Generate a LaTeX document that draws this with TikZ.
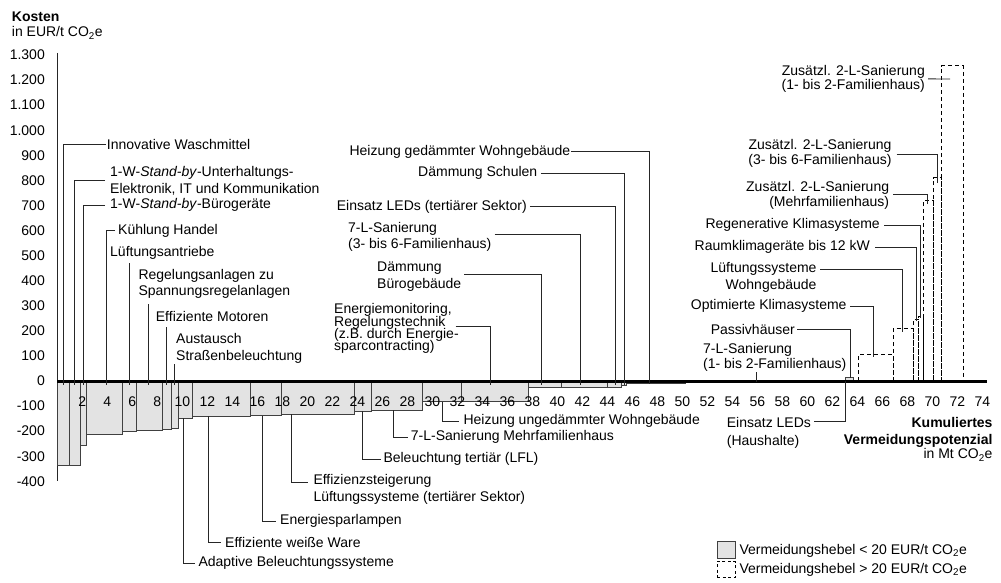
\documentclass[tikz,border=0pt]{standalone}
\usepackage{fontspec}
\setmainfont{Liberation Sans}
\usetikzlibrary{calc}
\begin{document}
\lineskiplimit=-50pt
\begin{tikzpicture}[x=1pt,y=-1pt,
  lbl/.style={font=\fontsize{14}{#1}\selectfont, inner sep=0pt, text=black},
  lbl/.default=16.7,
  ldr/.style={draw=black!85, line width=0.9pt},
  sbar/.style={fill=black!11, draw=black!75, line width=0.9pt},
  dbar/.style={draw=black, line width=0.9pt, dash pattern=on 4pt off 3pt},
  boldlbl/.style={font=\fontsize{14}{16.7}\selectfont\bfseries, inner sep=0pt}]
\useasboundingbox (0,0) rectangle (1001,583);

% y axis
\draw[black!85, line width=1pt] (57.3,53) -- (57.3,481);

\begin{scope}[shift={(57.3pt,-381pt)}, x=12.5pt, y=0.2508pt]
  % bars below 20 EUR
  \foreach \xa/\xb/\val in {0/0.96/-335, 0.96/1.816/-335, 1.816/2.296/-258, 2.296/5.2/-215,
      5.2/6.352/-203, 6.352/8.4/-199, 8.4/9.152/-195, 9.152/9.68/-189, 9.68/10.83/-149,
      10.83/15.42/-141, 15.42/17.9/-139, 17.9/23.74/-133, 23.74/25.15/-120, 25.15/29.2/-116,
      29.2/32.35/-82, 32.35/37.68/-80, 37.68/40.3/-25, 40.3/44.0/-25, 44.0/45.1/-24,
      45.1/45.55/-16, 45.55/50.22/-11, 50.22/63.02/-5, 63.02/63.68/13}
    \draw[sbar] (\xa,0) rectangle (\xb,\val);
  % bars above 20 EUR
  \foreach \xa/\xb/\val in {64.08/66.88/104, 66.88/68.48/210, 68.48/68.88/246, 68.88/69.28/256,
      69.28/70.08/718, 70.08/70.75/811, 70.75/72.48/1257}
    \draw[dbar] (\xa,0) rectangle (\xb,\val);
  % x axis
  \draw[line width=3pt] (0,0) -- (74.35,0);
  % tick labels
  \foreach \val/\txt [count=\ii] in {1300/1.300,1200/1.200,1100/1.100,1000/1.000,900/900,800/800,
      700/700,600/600,500/500,400/400,300/300,200/200,100/100,0/0,-100/-100,-200/-200,
      -300/-300,-400/-400}
    \node[lbl, anchor=east] (yt\ii) at (-0.984,\val) {\txt};
  \foreach \mm in {2,4,...,74}
    \node[lbl] (xt\mm) at (\mm,-81.7) {\mm};
  % leader end points
  \coordinate (pL1) at (0.48,-14);
  \coordinate (pL2) at (1.34,-14);
  \coordinate (pL3) at (2.08,-14);
  \coordinate (pL4) at (3.9,-14);
  \coordinate (pL5) at (5.74,-14);
  \coordinate (pL6) at (7.28,-14);
  \coordinate (pL7) at (8.75,-14);
  \coordinate (pL8) at (9.36,-14);
  \coordinate (pM1) at (47.4,-10);
  \coordinate (pM2) at (45.34,-14);
  \coordinate (pM3) at (44.62,-14);
  \coordinate (pM4) at (41.87,-14);
  \coordinate (pM5) at (38.75,-14);
  \coordinate (pM6) at (34.62,-14);
  \coordinate (pR1) at (71.42,1204);
  \coordinate (pR2) at (70.43,790);
  \coordinate (pR3) at (69.6,705);
  \coordinate (pR4) at (69.07,250);
  \coordinate (pR5) at (68.75,240);
  \coordinate (pR6) at (67.63,195);
  \coordinate (pR7) at (65.28,95);
  \coordinate (pR8) at (63.47,12);
  \coordinate (pR9) at (55.95,-5);
  \coordinate (pB1) at (10.08,-149);
  \coordinate (pB2) at (12.08,-141);
  \coordinate (pB3) at (16.38,-139);
  \coordinate (pB4) at (18.75,-133);
  \coordinate (pB5) at (24.4,-120);
  \coordinate (pB6) at (26.88,-116);
  \coordinate (pB7) at (30.83,-82);
  \coordinate (pB8) at (63.02,0);
\end{scope}

% axis titles
\node[boldlbl, anchor=west] (kosten) at (11.7,16.7) {Kosten};
\node[lbl, anchor=west] (einheit) at (11.7,33) {in EUR/t CO\textsubscript{2}e};
\node[boldlbl, anchor=east, align=right] (kum) at (992.7,432.7) {Kumuliertes\\Vermeidungspotenzial};
\node[lbl, anchor=east] (mt) at (992.7,455) {in Mt CO\textsubscript{2}e};

% left labels
\node[lbl, anchor=west] (L1) at (106.7,144) {Innovative Waschmittel};
\node[lbl=17, anchor=west, align=left] (L2) at (110,180.5) {1-W-\textit{Stand-by}-Unterhaltungs-\\Elektronik, IT und Kommunikation};
\node[lbl, anchor=west] (L3) at (110,205) {1-W-\textit{Stand-by}-Bürogeräte};
\node[lbl, anchor=west] (L4) at (118,230.7) {Kühlung Handel};
\node[lbl, anchor=west] (L5) at (110,253.3) {Lüftungsantriebe};
\node[lbl=16.3, anchor=west, align=left] (L6) at (138.3,284.2) {Regelungsanlagen zu\\Spannungsregelanlagen};
\node[lbl, anchor=west] (L7) at (155.7,316.7) {Effiziente Motoren};
\node[lbl, anchor=west, align=left] (L8) at (176,348.3) {Austausch\\Straßenbeleuchtung};

% middle labels
\node[lbl, anchor=west] (M1) at (349.3,151.7) {Heizung gedämmter Wohngebäude};
\node[lbl, anchor=west] (M2) at (418,173.3) {Dämmung Schulen};
\node[lbl, anchor=west] (M3) at (336.7,206.7) {Einsatz LEDs (tertiärer Sektor)};
\node[lbl=16, anchor=west, align=left] (M4) at (348,237) {7-L-Sanierung\\(3- bis 6-Familienhaus)};
\node[lbl, anchor=west, align=left] (M5) at (377,276.7) {Dämmung\\Bürogebäude};
\node[lbl=12.4, anchor=west, align=left] (M6) at (334,328.7) {Energiemonitoring,\\Regelungstechnik\\(z.B. durch Energie-\\sparcontracting)};

% right labels
\node[lbl=14.5, anchor=east, align=right] (R1) at (925,78.9) {Zusätzl. 2-L-Sanierung\\(1- bis 2-Familienhaus)};
\node[lbl=15.3, anchor=east, align=right] (R2) at (891.7,153.4) {Zusätzl. 2-L-Sanierung\\(3- bis 6-Familienhaus)};
\node[lbl=15, anchor=east, align=right] (R3) at (889.3,195.8) {Zusätzl. 2-L-Sanierung\\(Mehrfamilienhaus)};
\node[lbl, anchor=east] (R4) at (880,225) {Regenerative Klimasysteme};
\node[lbl, anchor=east] (R5) at (870,247) {Raumklimageräte bis 12 kW};
\node[lbl=17, anchor=east, align=right] (R6) at (816.7,277.5) {Lüftungssysteme\\Wohngebäude};
\node[lbl, anchor=east] (R7) at (846.7,306) {Optimierte Klimasysteme};
\node[lbl, anchor=east] (R8) at (795,329) {Passivhäuser};
\node[lbl=14.7, anchor=west, align=left] (R9) at (703,357.4) {7-L-Sanierung\\(1- bis 2-Familienhaus)};

% lower labels
\node[lbl, anchor=west] (B1) at (198.3,563.3) {Adaptive Beleuchtungssysteme};
\node[lbl, anchor=west] (B2) at (225,542.7) {Effiziente weiße Ware};
\node[lbl, anchor=west] (B3) at (280,521) {Energiesparlampen};
\node[lbl, anchor=west, align=left] (B4) at (313.3,489.3) {Effizienzsteigerung\\Lüftungssysteme (tertiärer Sektor)};
\node[lbl, anchor=west] (B5) at (383.3,459) {Beleuchtung tertiär (LFL)};
\node[lbl, anchor=west] (B6) at (410.7,437.3) {7-L-Sanierung Mehrfamilienhaus};
\node[lbl, anchor=west] (B7) at (463.3,421) {Heizung ungedämmter Wohngebäude};
\node[lbl=17.4, anchor=west, align=left] (B8) at (726.7,433) {Einsatz LEDs\\(Haushalte)};

% leaders
\draw[ldr] ([xshift=-0.5pt]L1.west) -| (pL1);
\draw[ldr] ([xshift=-5pt]L2.west) -| (pL2);
\draw[ldr] ([xshift=-5pt]L3.west) -| (pL3);
\draw[ldr] ([xshift=-3.5pt]L4.west) -| (pL4);
\draw[ldr] (pL5) -- ($(pL5 |- L5.south)+(0,3)$);
\draw[ldr] (pL6) -- ($(pL6 |- L6.south)+(0,4.5)$);
\draw[ldr] (pL7) -- ($(pL7 |- L7.south)+(0,5)$);
\draw[ldr] (pL8) -- ($(pL8 |- L8.south)+(0,1)$);
\draw[ldr] ([xshift=1pt]M1.east) -| (pM1);
\draw[ldr] ([xshift=3.5pt]M2.east) -| (pM2);
\draw[ldr] ([xshift=3pt]M3.east) -| (pM3);
\draw[ldr] ([xshift=3pt,yshift=2.7pt]M4.east) -| (pM4);
\draw[ldr] ([xshift=3pt,yshift=2.4pt]M5.east) -| (pM5);
\draw[ldr] ([xshift=-3.3pt,yshift=2pt]M6.east) -| (pM6);
\draw[ldr] ([xshift=3pt]R1.east) -- (pR1);
\draw[ldr] ([xshift=5pt,yshift=-0.9pt]R2.east) -| (pR2);
\draw[ldr] ([xshift=4pt,yshift=1.5pt]R3.east) -| (pR3);
\draw[ldr] ([xshift=4pt]R4.east) -| (pR4);
\draw[ldr] ([xshift=5pt]R5.east) -| (pR5);
\draw[ldr] ([xshift=3.3pt,yshift=8.2pt]R6.east) -| (pR6);
\draw[ldr] ([xshift=3.3pt]R7.east) -| (pR7);
\draw[ldr] ([xshift=2.3pt]R8.east) -| (pR8);
\draw[ldr] (pR9) -- ($(pR9 |- R9.south)+(0,1)$);
\draw[ldr] (pB1) |- ([xshift=-3pt]B1.west);
\draw[ldr] (pB2) |- ([xshift=-4pt]B2.west);
\draw[ldr] (pB3) |- ([xshift=-4pt]B3.west);
\draw[ldr] (pB4) |- ([xshift=-5.5pt,yshift=7pt]B4.west);
\draw[ldr] (pB5) |- ([xshift=-2.5pt]B5.west);
\draw[ldr] (pB6) |- ([xshift=-2.5pt]B6.west);
\draw[ldr] (pB7) |- ([xshift=-4pt]B7.west);
\draw[ldr] ([xshift=3pt,yshift=11.3pt]B8.east) -| (pB8);

% legend
\node[sbar, minimum width=17.7pt, minimum height=16.6pt, inner sep=0pt] (lg1) at (726.2,550) {};
\node[lbl, anchor=west] (lt1) at (739.3,551) {Vermeidungshebel < 20 EUR/t CO\textsubscript{2}e};
\node[draw=black, line width=0.9pt, dash pattern=on 3pt off 2.5pt, minimum width=17.7pt, minimum height=16.6pt, inner sep=0pt] (lg2) at (726.2,569.5) {};
\node[lbl, anchor=west] (lt2) at (739.3,570) {Vermeidungshebel > 20 EUR/t CO\textsubscript{2}e};
\end{tikzpicture}
\end{document}
